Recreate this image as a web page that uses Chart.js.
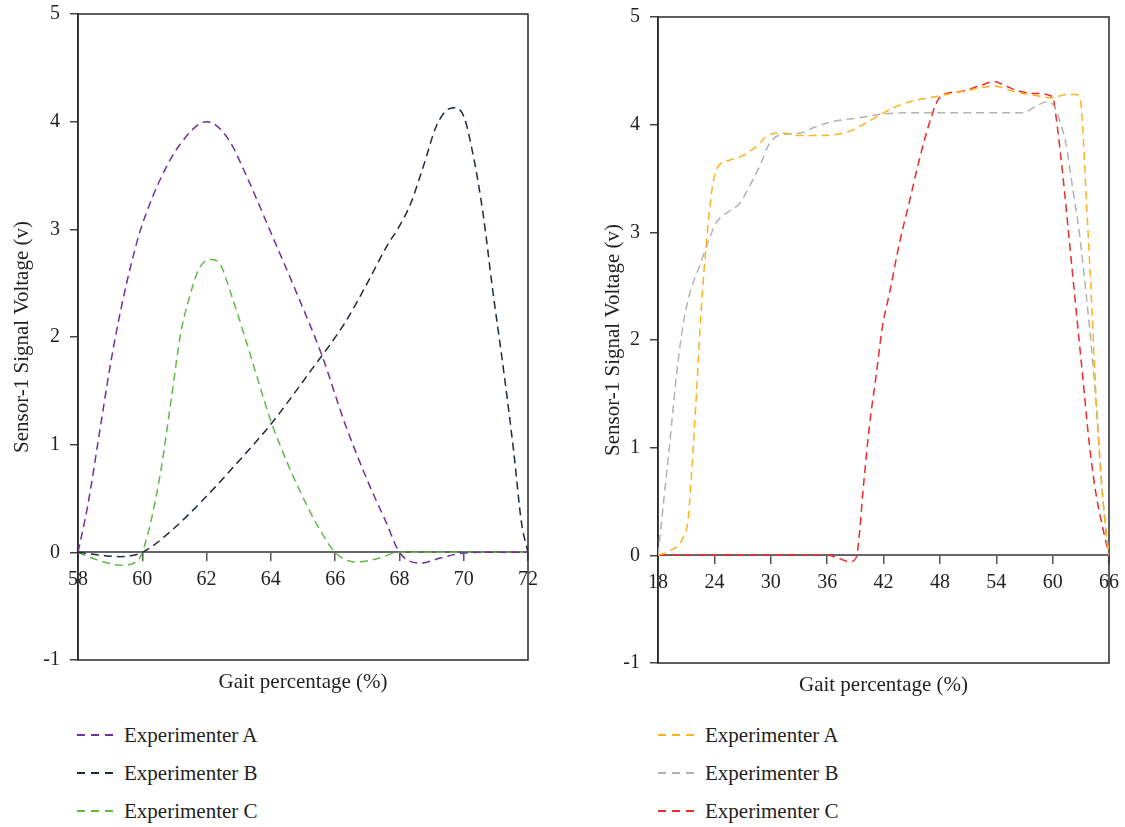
<!DOCTYPE html>
<html>
<head>
<meta charset="utf-8">
<script src="https://cdn.jsdelivr.net/npm/chart.js@4/dist/chart.umd.min.js"></script>
<style>
  body { margin: 0; background: #fff; }
  #wrap { position: relative; width: 1125px; height: 827px; }
  canvas { position: absolute; top: 0; }
  .legend { position: absolute; top: 716px; font: 21px "Liberation Serif", serif; color: #231f20; }
  .legend-row { display: flex; align-items: center; height: 38px; }
  .legend-dash { width: 36px; height: 2px; margin-right: 11px; }
</style>
</head>
<body>
<div id="wrap">
  <canvas id="chartLeft" width="560" height="700" style="left:0"></canvas>
  <canvas id="chartRight" width="565" height="700" style="left:560px"></canvas>
  <div id="legendLeft" class="legend" style="left:77px"></div>
  <div id="legendRight" class="legend" style="left:658px"></div>
</div>
<script>
// --- datos ---
const labelsSeries = ['Experimenter A', 'Experimenter B', 'Experimenter C'];
const yTitle = 'Sensor-1 Signal Voltage (v)';
const xTitle = 'Gait percentage (%)';

// panel izquierdo (58–72 %)
const leftAX = [58, 58.3, 58.7, 59.0, 59.4, 59.85, 60.05, 60.6, 61.2, 62.0, 62.65, 63.25, 64.0, 64.8, 65.6, 66.3, 67.0, 67.6, 68.0, 68.65, 69.3, 69.9, 70.5, 72];
const leftAY = [0, 0.43, 1.17, 1.73, 2.35, 2.9, 3.09, 3.49, 3.8, 4.0, 3.85, 3.49, 2.97, 2.41, 1.82, 1.2, 0.67, 0.27, 0, -0.1, -0.05, -0.01, 0, 0];
const leftBX = [58, 58.8, 59.3, 60, 60.9, 61.9, 62.95, 64.0, 65.2, 66.3, 67.0, 67.6, 68.0, 68.35, 68.75, 69.15, 69.45, 69.7, 70.0, 70.3, 70.6, 70.9, 71.25, 71.55, 71.8, 72];
const leftBY = [0, -0.03, -0.04, 0, 0.2, 0.49, 0.83, 1.19, 1.67, 2.13, 2.5, 2.84, 3.03, 3.24, 3.59, 3.96, 4.10, 4.13, 4.05, 3.68, 3.15, 2.44, 1.67, 0.95, 0.27, 0];
const leftCX = [58, 58.6, 59.35, 59.85, 60, 60.3, 60.6, 60.9, 61.2, 61.45, 61.7, 61.9, 62.15, 62.45, 62.75, 63.15, 63.6, 64.0, 64.5, 65.0, 65.45, 66, 66.65, 67.3, 68, 72];
const leftCY = [0, -0.07, -0.12, -0.08, 0, 0.33, 0.8, 1.42, 2.04, 2.35, 2.59, 2.69, 2.72, 2.66, 2.41, 2.04, 1.6, 1.22, 0.84, 0.51, 0.25, 0, -0.09, -0.06, 0, 0];

// panel derecho (18–66 %)
const rightAX = [18, 19.2, 20.6, 21.2, 21.55, 22.1, 22.6, 23.15, 23.7, 24.2, 25.6, 27.0, 28.5, 29.9, 31.3, 33.0, 35.5, 38.4, 40.2, 42.0, 43.4, 45.1, 46.9, 48.7, 50.4, 52.2, 53.8, 55.8, 58.2, 60.0, 61.4, 62.5, 62.95, 63.2, 63.55, 64.1, 64.6, 65.15, 65.7, 66];
const rightAY = [0, 0.04, 0.15, 0.33, 0.73, 1.51, 2.28, 2.9, 3.37, 3.58, 3.67, 3.71, 3.8, 3.91, 3.92, 3.9, 3.9, 3.94, 4.02, 4.11, 4.17, 4.22, 4.25, 4.28, 4.31, 4.34, 4.36, 4.31, 4.27, 4.25, 4.28, 4.28, 4.23, 3.98, 3.37, 2.44, 1.51, 0.73, 0.21, 0];
const rightBX = [18, 18.5, 19.25, 19.95, 20.65, 21.4, 22.4, 23.3, 24.2, 25.3, 26.7, 27.75, 28.8, 29.9, 31.3, 33.0, 34.8, 36.6, 39.1, 42.0, 45, 50, 56.8, 58.2, 59.3, 60.0, 60.7, 61.4, 62.1, 62.85, 63.55, 64.25, 64.8, 65.3, 65.7, 66];
const rightBY = [0, 0.42, 1.04, 1.66, 2.13, 2.44, 2.68, 2.9, 3.09, 3.18, 3.27, 3.43, 3.61, 3.83, 3.91, 3.92, 3.98, 4.03, 4.06, 4.10, 4.11, 4.11, 4.11, 4.17, 4.21, 4.19, 4.05, 3.83, 3.43, 2.99, 2.44, 1.82, 1.2, 0.58, 0.21, 0];
const rightCX = [18, 36, 37, 38.4, 39.1, 39.45, 39.8, 40.5, 41.2, 41.9, 42.65, 43.7, 44.8, 45.8, 46.9, 47.8, 48.7, 50.4, 52.2, 53.8, 55.0, 56.5, 58.2, 60.0, 60.4, 61.1, 61.8, 62.5, 63.2, 63.9, 64.6, 65.3, 66];
const rightCY = [0, 0, -0.02, -0.06, -0.02, 0.21, 0.58, 1.2, 1.66, 2.13, 2.44, 2.9, 3.3, 3.67, 4.02, 4.23, 4.29, 4.31, 4.36, 4.40, 4.36, 4.31, 4.29, 4.26, 4.05, 3.52, 2.9, 2.28, 1.66, 1.04, 0.58, 0.27, 0];

const leftColors = ['#7030a0', '#1c2b3a', '#5dbb46'];
const rightColors = ['#ffb21e', '#b2b2b2', '#ee2a2a'];

Chart.defaults.font.family = '"Liberation Serif", serif';
Chart.defaults.font.size = 20;
Chart.defaults.color = '#231f20';

function toPoints(xs, ys) { return xs.map((x, i) => ({ x: x, y: ys[i] })); }

// marco del área y título del eje x
const framePlugin = {
    id: 'frame',
    beforeDatasetsDraw(chart) {
        const { ctx, chartArea: a } = chart;
        ctx.save();
        ctx.strokeStyle = '#2a2a2a';
        ctx.lineWidth = 1.5;
        ctx.strokeRect(a.left, a.top, a.right - a.left, a.bottom - a.top);
        ctx.restore();
    },
    afterDraw(chart) {
        const { ctx, chartArea: a } = chart;
        ctx.save();
        ctx.font = '21px "Liberation Serif", serif';
        ctx.fillStyle = '#231f20';
        ctx.textAlign = 'center';
        ctx.textBaseline = 'middle';
        ctx.fillText(xTitle, (a.left + a.right) / 2, a.bottom + 22);
        ctx.restore();
    }
};

function crearGrafico(canvasId, legendId, series, xMin, xMax, xStep, geo) {
    const datasets = series.map(s => ({
        label: s.label,
        data: toPoints(s.xs, s.ys),
        borderColor: s.color,
        backgroundColor: s.color,
        borderWidth: 1.5,
        borderDash: [8, 5],
        pointRadius: 0,
        cubicInterpolationMode: 'monotone',
        fill: false
    }));

    const chart = new Chart(document.getElementById(canvasId), {
        type: 'line',
        data: { datasets: datasets },
        options: {
            responsive: false,
            animation: false,
            devicePixelRatio: 1,
            layout: { padding: { top: geo.padTop, right: geo.padRight, left: 0, bottom: geo.padBottom } },
            plugins: { legend: { display: false }, tooltip: { enabled: false } },
            scales: {
                x: {
                    type: 'linear',
                    position: { y: 0 },
                    min: xMin, max: xMax,
                    ticks: { stepSize: xStep, padding: 7, maxRotation: 0 },
                    grid: { drawOnChartArea: false, drawTicks: true, tickLength: 8, color: '#555', lineWidth: 1.5 },
                    border: { display: true, color: '#666', width: 2 },
                    afterFit: s => { s.height = 0; s.paddingLeft = 0; s.paddingRight = 0; }
                },
                y: {
                    min: -1, max: 5,
                    ticks: { stepSize: 1, padding: 10 },
                    grid: { drawOnChartArea: false, drawTicks: true, tickLength: 8, color: '#444', lineWidth: 1.5 },
                    border: { display: true, color: '#2a2a2a', width: 1.5 },
                    title: { display: true, text: yTitle, font: { size: 21 }, padding: { top: geo.titlePad, bottom: 0 } },
                    afterFit: s => { s.width = geo.yWidth; s.paddingTop = 0; s.paddingBottom = 0; }
                }
            }
        },
        plugins: [framePlugin]
    });

    // leyenda en HTML a partir de los datasets
    const legend = document.getElementById(legendId);
    chart.data.datasets.forEach(ds => {
        legend.innerHTML += `<div class="legend-row"><span class="legend-dash" style="background:repeating-linear-gradient(to right, ${ds.borderColor} 0 8px, transparent 8px 14px)"></span><span>${ds.label}</span></div>`;
    });
    return chart;
}

crearGrafico('chartLeft', 'legendLeft', [
    { label: labelsSeries[0], xs: leftAX, ys: leftAY, color: leftColors[0] },
    { label: labelsSeries[1], xs: leftBX, ys: leftBY, color: leftColors[1] },
    { label: labelsSeries[2], xs: leftCX, ys: leftCY, color: leftColors[2] }
], 58, 72, 2, { padTop: 14, padRight: 32, padBottom: 40, yWidth: 78, titlePad: 10 });

crearGrafico('chartRight', 'legendRight', [
    { label: labelsSeries[0], xs: rightAX, ys: rightAY, color: rightColors[0] },
    { label: labelsSeries[1], xs: rightBX, ys: rightBY, color: rightColors[1] },
    { label: labelsSeries[2], xs: rightCX, ys: rightCY, color: rightColors[2] }
], 18, 66, 6, { padTop: 17, padRight: 16, padBottom: 37, yWidth: 98, titlePad: 41 });
</script>
</body>
</html>
